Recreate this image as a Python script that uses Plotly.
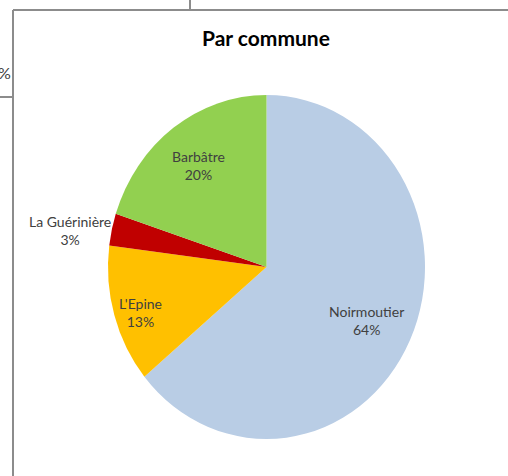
import math
import plotly.graph_objects as go

communes = ["Noirmoutier", "L'Epine", "La Guérinière", "Barbâtre"]
parts = [64, 13, 3, 20]
couleurs = ["#B9CDE5", "#FFC000", "#C00000", "#92D050"]
titre = "Par commune"

# style: radial position of each data label (fraction of the pie radius) and a small vertical nudge (px)
label_radius = [0.70, 0.83, 1.27, 0.735]
label_nudge = [2, 6, 11, 1]

W, H = 508, 476
CX, CY = 266.5, 267      # pie centre (px)
RX, RY = 158.5, 172      # horizontal / vertical radius (px) - the reference pie is slightly stretched

def px(x):
    return x / W

def py(y):
    return 1 - y / H

FONT = "Lato, Open Sans, sans-serif"

fig = go.Figure(go.Pie(
    labels=communes,
    values=parts,
    marker=dict(colors=couleurs, line=dict(width=0)),
    sort=False,
    direction="clockwise",
    rotation=0,
    textinfo="none",
    domain=dict(x=[px(CX - RX), px(CX + RX)], y=[py(CY + RX), py(CY - RX)]),
    showlegend=False,
    hoverinfo="label+percent",
))

# data labels placed at the middle angle of each slice, computed from the values
total = sum(parts)
annotations = []
cum = 0
for name, v, f, dy in zip(communes, parts, label_radius, label_nudge):
    mid = (cum + v / 2) / total * 2 * math.pi
    cum += v
    x = CX + f * RX * math.sin(mid)
    y = CY - f * RY * math.cos(mid) + dy
    pct = round(v / total * 100)
    annotations.append(dict(
        text=f"{name}<br>{pct}%", xref="paper", yref="paper", x=px(x), y=py(y),
        xanchor="center", yanchor="middle", showarrow=False, align="center",
        font=dict(family=FONT, size=14, color="#404040"),
    ))

annotations += [
    dict(text="<b>" + titre + "</b>", xref="paper", yref="paper", x=px(266), y=py(38),
         xanchor="center", yanchor="middle", showarrow=False,
         font=dict(family=FONT, size=21, color="black")),
    dict(text="%", xref="paper", yref="paper", x=px(13), y=py(72),
         xanchor="right", yanchor="middle", showarrow=False,
         font=dict(family=FONT, size=16, color="#404040")),
]

line_style = dict(color="#8c8c8c", width=2)
fig.update_layout(
    width=W, height=H,
    margin=dict(l=0, r=0, t=0, b=0),
    paper_bgcolor="white",
    plot_bgcolor="white",
    shapes=[
        dict(type="line", xref="paper", yref="paper", x0=px(13), x1=px(13), y0=py(10), y1=0, line=line_style),
        dict(type="line", xref="paper", yref="paper", x0=px(13), x1=1, y0=py(10), y1=py(10), line=line_style),
        dict(type="line", xref="paper", yref="paper", x0=px(190), x1=px(190), y0=1, y1=py(10), line=line_style),
        dict(type="line", xref="paper", yref="paper", x0=0, x1=px(13), y0=py(97), y1=py(97), line=line_style),
    ],
    annotations=annotations,
)

scale_y = RY / RX
post = (
    "document.body.style.margin='0';document.body.style.overflow='hidden';"
    "var gd=document.getElementById('{plot_id}');"
    "var g=gd.querySelector('.pielayer');"
    f"if(g){{g.setAttribute('transform','translate(0,{CY}) scale(1,{scale_y:.5f}) translate(0,-{CY})');}}"
)

fig.write_html("out.html", post_script=post, config={"displayModeBar": False})
